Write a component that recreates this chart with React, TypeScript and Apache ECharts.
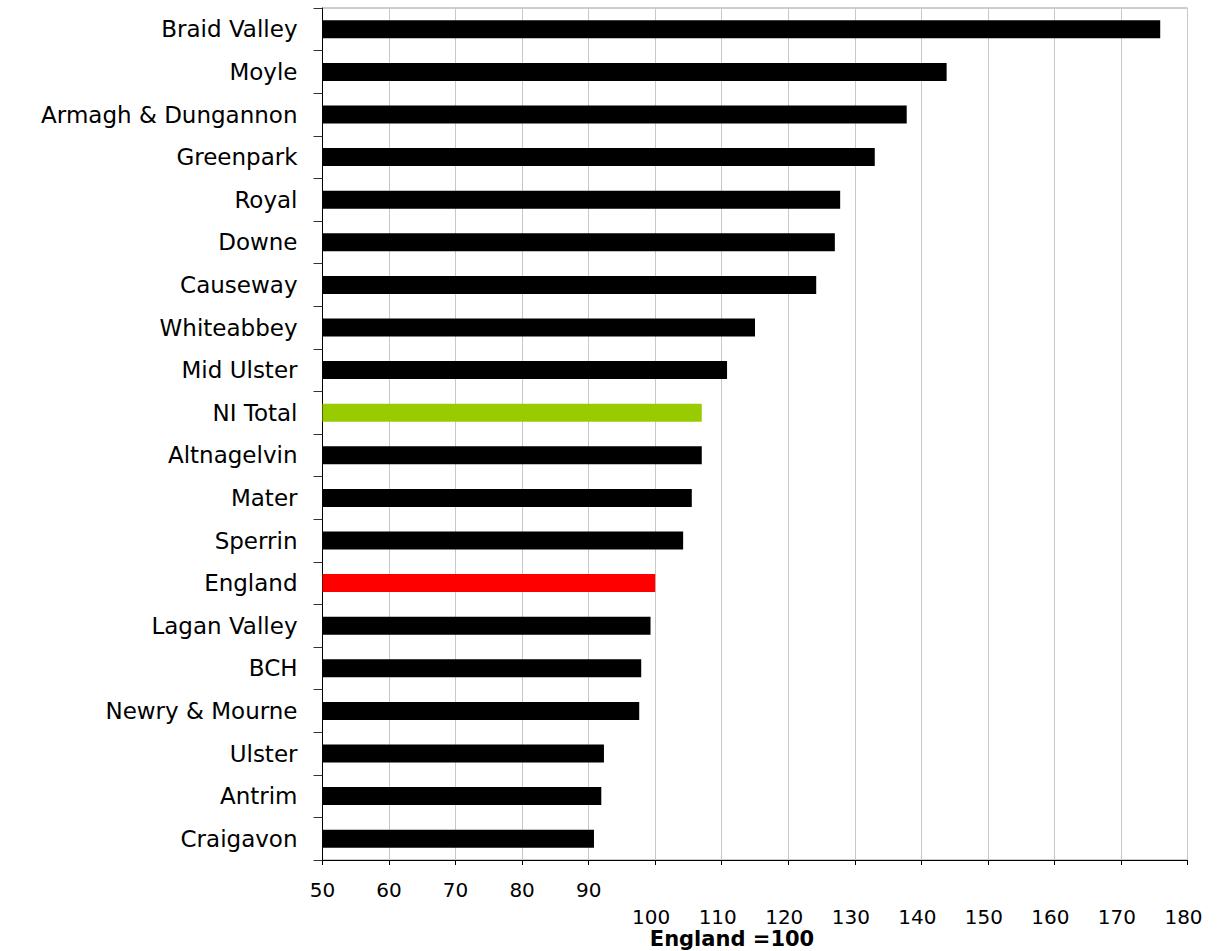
import React, { useEffect, useRef } from "react";
import * as echarts from "echarts";

const categories: string[] = [
  "Braid Valley",
  "Moyle",
  "Armagh & Dungannon",
  "Greenpark",
  "Royal",
  "Downe",
  "Causeway",
  "Whiteabbey",
  "Mid Ulster",
  "NI Total",
  "Altnagelvin",
  "Mater",
  "Sperrin",
  "England",
  "Lagan Valley",
  "BCH",
  "Newry & Mourne",
  "Ulster",
  "Antrim",
  "Craigavon",
];

const values: number[] = [
  175.9, 143.8, 137.8, 133.0, 127.8, 127.0, 124.2, 115.0, 110.8, 107.0,
  107.0, 105.5, 104.2, 100.0, 99.3, 97.9, 97.6, 92.3, 91.9, 90.8,
];

const xTicks = { min: 50, max: 180, interval: 10 };
const axisTitle = "England =100";

const highlightColors: Record<string, string> = {
  "NI Total": "#99cc00",
  England: "#ff0000",
};
const defaultColor = "#000000";

export default function App() {
  const ref = useRef<HTMLDivElement>(null);

  useEffect(() => {
    if (!ref.current) return;
    const chart = echarts.init(ref.current, null, { renderer: "svg" });
    const font = "'DejaVu Sans', 'Liberation Sans', Arial, sans-serif";
    chart.setOption({
      animation: false,
      backgroundColor: "#ffffff",
      grid: {
        left: 322.5,
        right: 30.5,
        top: 8,
        bottom: 91,
        show: true,
        borderColor: "#9a9a9a",
        borderWidth: 1,
        containLabel: false,
        outerBoundsMode: "none",
      },
      xAxis: {
        type: "value",
        min: xTicks.min,
        max: xTicks.max,
        interval: xTicks.interval,
        name: axisTitle,
        nameLocation: "middle",
        nameGap: 68,
        nameMoveOverlap: false,
        nameTextStyle: {
          fontFamily: font,
          fontSize: 21,
          fontWeight: "bold",
          color: "#000",
          padding: [0, 46, 0, 0],
        },
        axisLine: { show: true, lineStyle: { color: "#000", width: 1 } },
        axisTick: {
          show: true,
          inside: false,
          length: 5,
          lineStyle: { color: "#000" },
        },
        splitLine: { show: true, lineStyle: { color: "#c8c8c8", width: 1 } },
        axisLabel: {
          fontFamily: font,
          fontSize: 20,
          color: "#000",
          margin: 16,
          lineHeight: 27,
          showMinLabel: true,
          showMaxLabel: true,
          hideOverlap: false,
          formatter: (v: number) => (v >= 100 ? "\n{s|" + v + "}" : String(v)),
          rich: {
            s: {
              fontFamily: font,
              fontSize: 20,
              color: "#000",
              lineHeight: 27,
              padding: [0, 8, 0, 0],
            },
          },
        },
      },
      yAxis: {
        type: "category",
        data: categories,
        inverse: true,
        axisLine: { show: true, lineStyle: { color: "#000", width: 1 } },
        axisTick: {
          show: true,
          inside: false,
          length: 9,
          lineStyle: { color: "#333" },
        },
        splitLine: { show: false },
        axisLabel: {
          fontFamily: font,
          fontSize: 23,
          color: "#000",
          margin: 25,
          interval: 0,
        },
      },
      series: [
        {
          type: "bar",
          barWidth: 18,
          clip: true,
          data: values.map((v, i) => ({
            value: v,
            itemStyle: { color: highlightColors[categories[i]] ?? defaultColor },
          })),
        },
      ],
    });
    return () => chart.dispose();
  }, []);

  return (
    <div
      ref={ref}
      style={{ position: "fixed", left: 0, top: 0, width: 1218, height: 951 }}
    />
  );
}
